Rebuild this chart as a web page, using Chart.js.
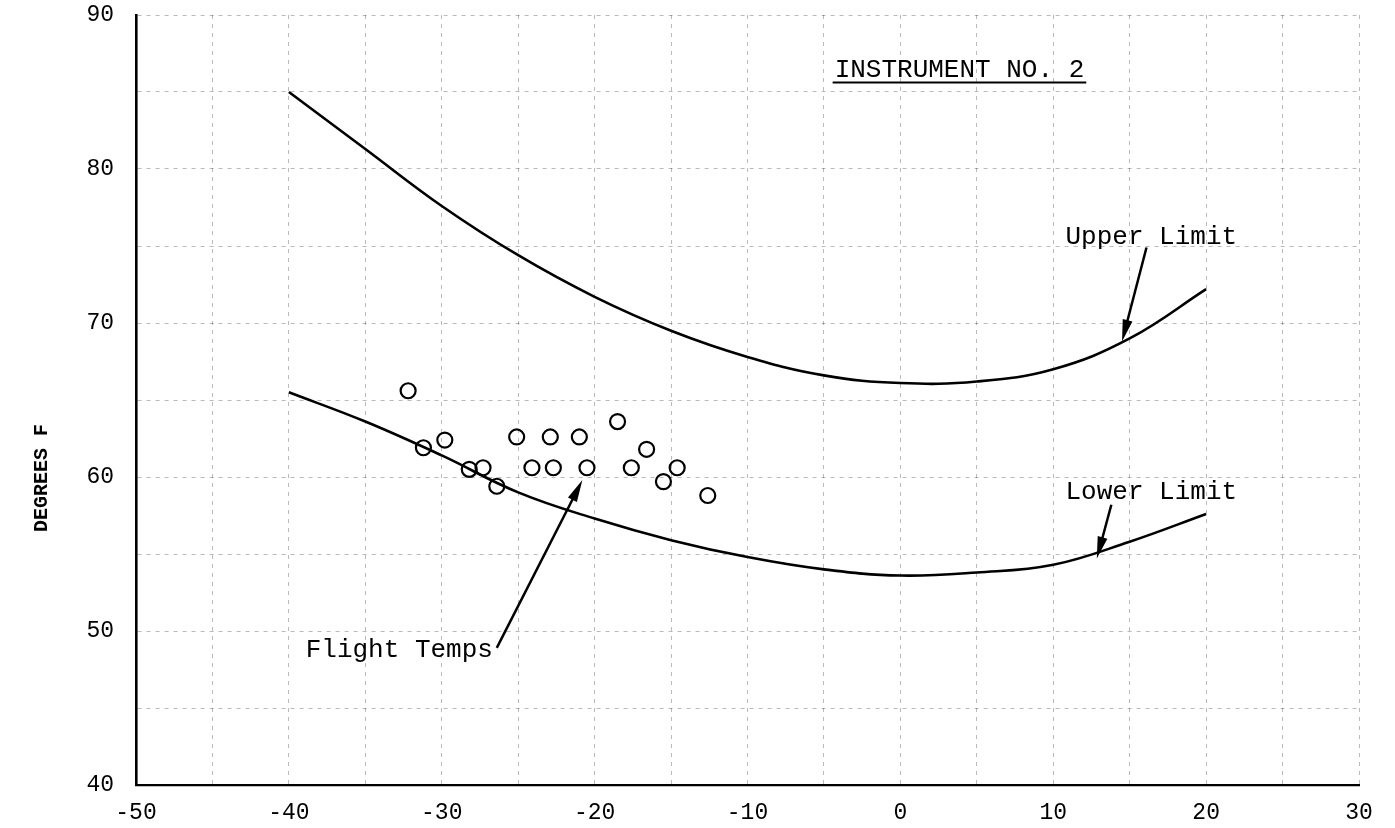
<!DOCTYPE html>
<html>
<head>
<meta charset="utf-8">
<title>Instrument No. 2</title>
<script src="https://cdn.jsdelivr.net/npm/chart.js@4.4.1/dist/chart.umd.min.js"></script>
<style>
    html, body { margin: 0; padding: 0; background: #fff; }
    #chart { display: block; }
</style>
</head>
<body>
<canvas id="chart" width="1395" height="828"></canvas>
<script>
// limit curves
const curveX = [-40, -35, -30, -25, -20, -15, -10, -5, 0, 5, 10, 15, 20];
const upperLimit = [85, 81.3, 77.6, 74.4, 71.7, 69.5, 67.8, 66.6, 66.1, 66.2, 67.0, 69.0, 72.2];
const lowerLimit = [65.5, 63.6, 61.4, 59.0, 57.3, 55.9, 54.8, 54.0, 53.6, 53.8, 54.3, 55.8, 57.6];

// flight temperatures (circles)
const flightX = [-32.2, -31.2, -29.8, -28.2, -27.3, -26.4, -25.1, -24.1, -22.9, -22.7, -21.0, -20.5, -18.5, -17.6, -16.6, -15.5, -14.6, -12.6];
const flightY = [65.6, 61.9, 62.4, 60.5, 60.6, 59.4, 62.6, 60.6, 62.6, 60.6, 62.6, 60.6, 63.6, 60.6, 61.8, 59.7, 60.6, 58.8];

// axis ticks
const xTicks = [-50, -40, -30, -20, -10, 0, 10, 20, 30];
const yTicks = [40, 50, 60, 70, 80, 90];

const typeFont = '"Courier New", "Liberation Mono", monospace';

// text notes and arrows, in data units
const notes = [
    { text: 'INSTRUMENT NO. 2', x: -4.3, y: 86.0, underline: true },
    { text: 'Upper Limit', x: 10.8, y: 75.1 },
    { text: 'Lower Limit', x: 10.8, y: 58.6 },
    { text: 'Flight Temps', x: -38.9, y: 48.3 }
];
const arrows = [
    { from: [16.1, 74.9], to: [14.5, 68.8] },
    { from: [13.8, 58.2], to: [12.85, 54.7] },
    { from: [-26.4, 48.9], to: [-20.8, 59.8] }
];

function toPoints(xs, ys) {
    return xs.map((x, i) => ({ x: x, y: ys[i] }));
}

const notesPlugin = {
    id: 'notes',
    afterDatasetsDraw(chart) {
        const ctx = chart.ctx;
        const sx = chart.scales.x;
        const sy = chart.scales.y;
        ctx.save();
        ctx.fillStyle = '#000';
        ctx.strokeStyle = '#000';
        ctx.font = '26px ' + typeFont;
        ctx.textBaseline = 'alphabetic';
        ctx.textAlign = 'left';
        notes.forEach(n => {
            const px = sx.getPixelForValue(n.x);
            const py = sy.getPixelForValue(n.y);
            ctx.fillText(n.text, px, py);
            if (n.underline) {
                const w = ctx.measureText(n.text).width;
                ctx.lineWidth = 2;
                ctx.beginPath();
                ctx.moveTo(px - 2, py + 6);
                ctx.lineTo(px + w + 2, py + 6);
                ctx.stroke();
            }
        });

        arrows.forEach(a => {
            const x1 = sx.getPixelForValue(a.from[0]);
            const y1 = sy.getPixelForValue(a.from[1]);
            const x2 = sx.getPixelForValue(a.to[0]);
            const y2 = sy.getPixelForValue(a.to[1]);
            const ang = Math.atan2(y2 - y1, x2 - x1);
            ctx.lineWidth = 2.5;
            ctx.beginPath();
            ctx.moveTo(x1, y1);
            ctx.lineTo(x2 - Math.cos(ang) * 10, y2 - Math.sin(ang) * 10);
            ctx.stroke();
            // arrow head
            const len = 22, half = 5;
            const bx = x2 - Math.cos(ang) * len;
            const by = y2 - Math.sin(ang) * len;
            ctx.beginPath();
            ctx.moveTo(x2, y2);
            ctx.lineTo(bx + Math.sin(ang) * half, by - Math.cos(ang) * half);
            ctx.lineTo(bx - Math.sin(ang) * half, by + Math.cos(ang) * half);
            ctx.closePath();
            ctx.fill();
        });

        // vertical axis title
        ctx.font = 'bold 20px ' + typeFont;
        ctx.textAlign = 'center';
        ctx.textBaseline = 'middle';
        ctx.translate(42, 478);
        ctx.rotate(-Math.PI / 2);
        ctx.fillText('DEGREES F', 0, 0);
        ctx.restore();
    }
};

const gridStyle = {
    color: 'rgba(0, 0, 0, 0.27)',
    lineWidth: 1,
    drawTicks: false
};

new Chart(document.getElementById('chart'), {
    type: 'scatter',
    data: {
        datasets: [
            {
                label: 'Flight Temps',
                data: toPoints(flightX, flightY),
                pointStyle: 'circle',
                pointRadius: 7.5,
                pointBorderWidth: 2.2,
                pointBorderColor: '#000',
                pointBackgroundColor: 'rgba(0,0,0,0)'
            },
            {
                label: 'Upper Limit',
                type: 'line',
                data: toPoints(curveX, upperLimit),
                borderColor: '#000',
                borderWidth: 2.6,
                pointRadius: 0,
                tension: 0.4,
                fill: false
            },
            {
                label: 'Lower Limit',
                type: 'line',
                data: toPoints(curveX, lowerLimit),
                borderColor: '#000',
                borderWidth: 2.6,
                pointRadius: 0,
                tension: 0.4,
                fill: false
            }
        ]
    },
    options: {
        responsive: false,
        animation: false,
        layout: { padding: { top: 15, right: 36, left: 0, bottom: 0 } },
        plugins: {
            legend: { display: false },
            tooltip: { enabled: false }
        },
        scales: {
            x: {
                type: 'linear',
                min: -50,
                max: 30,
                afterFit: scale => {
                    scale.height = 43;
                    scale.paddingLeft = 0;
                    scale.paddingRight = 0;
                },
                afterBuildTicks: scale => {
                    scale.ticks = [];
                    for (let v = -50; v <= 30; v += 5) scale.ticks.push({ value: v });
                },
                ticks: {
                    padding: 14,
                    color: '#000',
                    font: { family: typeFont, size: 23 },
                    callback: v => xTicks.includes(v) ? String(v) : ''
                },
                grid: gridStyle,
                border: { display: true, color: '#000', width: 2.2, dash: [4, 5] }
            },
            y: {
                type: 'linear',
                min: 40,
                max: 90,
                afterFit: scale => {
                    scale.width = 136;
                    scale.paddingTop = 0;
                    scale.paddingBottom = 0;
                },
                afterBuildTicks: scale => {
                    scale.ticks = [];
                    for (let v = 40; v <= 90; v += 5) scale.ticks.push({ value: v });
                },
                ticks: {
                    padding: 22,
                    color: '#000',
                    font: { family: typeFont, size: 23 },
                    callback: v => yTicks.includes(v) ? String(v) : ''
                },
                grid: gridStyle,
                border: { display: true, color: '#000', width: 2.6, dash: [4, 5] }
            }
        }
    },
    plugins: [notesPlugin]
});
</script>
</body>
</html>
